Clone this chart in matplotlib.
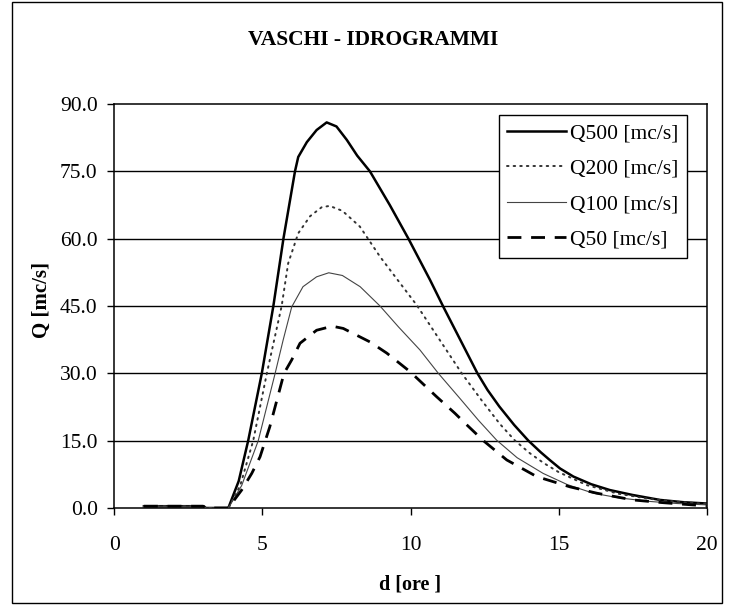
import matplotlib
matplotlib.use("Agg")
import matplotlib.pyplot as plt
from matplotlib.patches import Rectangle

plt.rcParams['font.family'] = ['Liberation Serif', 'DejaVu Serif']

title = "VASCHI - IDROGRAMMI"
xlabel = "d [ore ]"
ylabel = "Q [mc/s]"
series_names = ["Q500 [mc/s]", "Q200 [mc/s]", "Q100 [mc/s]", "Q50 [mc/s]"]

x_q500 = [1.0, 3.0, 3.1, 3.85, 4.2, 4.52, 4.98, 5.37, 5.71, 6.10, 6.21, 6.5, 6.83, 7.17,
          7.5, 7.85, 8.2, 8.63, 9.3, 9.93, 10.66, 11.11, 11.6, 12.26, 12.6, 13.0, 13.5,
          13.98, 14.4, 14.7, 15.05, 15.5, 16.1, 16.73, 17.5, 18.42, 19.2, 20.0]
y_q500 = [0.4, 0.4, 0.0, 0.0, 6.0, 15.0, 30.0, 45.0, 60.0, 75.0, 78.2, 81.5, 84.2, 85.9,
          85.0, 82.0, 78.5, 75.0, 67.5, 60.0, 50.8, 44.8, 38.5, 30.0, 26.3, 22.6, 18.5,
          15.0, 12.4, 10.7, 8.8, 7.0, 5.3, 4.0, 2.9, 1.8, 1.3, 1.0]

x_q200 = [1.0, 3.0, 3.1, 3.85, 4.25, 4.69, 5.15, 5.65, 5.87, 6.21, 6.61, 7.0, 7.27, 7.7,
          8.29, 8.97, 9.6, 10.21, 10.6, 11.0, 11.45, 11.73, 12.4, 13.02, 13.53, 14.03,
          14.5, 15.0, 15.95, 17.0, 18.0, 19.0, 20.0]
y_q200 = [0.4, 0.4, 0.0, 0.0, 5.0, 15.0, 30.0, 45.0, 54.5, 61.2, 65.0, 67.0, 67.3, 66.2,
          62.7, 56.0, 50.5, 45.2, 41.3, 37.3, 32.8, 30.0, 24.0, 18.7, 15.0, 12.2,
          10.0, 8.0, 5.1, 3.2, 2.1, 1.4, 0.9]

x_q100 = [1.0, 3.0, 3.1, 3.85, 4.3, 4.86, 5.43, 5.70, 5.99, 6.37, 6.83, 7.24, 7.7, 8.3,
          8.97, 9.6, 10.32, 10.94, 11.67, 12.3, 12.91, 13.6, 14.48, 15.3, 16.17, 17.0,
          18.0, 19.0, 20.0]
y_q100 = [0.4, 0.4, 0.0, 0.0, 5.0, 15.0, 30.0, 37.4, 44.8, 49.3, 51.5, 52.4, 51.8, 49.3,
          45.0, 40.3, 35.2, 30.0, 24.4, 19.5, 15.1, 11.2, 7.7, 5.2, 3.3, 2.3,
          1.5, 1.0, 0.7]

x_q50 = [1.0, 3.0, 3.1, 3.85, 4.3, 4.64, 4.92, 5.25, 5.73, 5.99, 6.27, 6.83, 7.36, 7.73,
         8.63, 9.2, 9.98, 10.88, 11.5, 11.84, 12.46, 13.25, 14.26, 15.39, 16.29, 17.5,
         18.5, 19.5, 20.0]
y_q50 = [0.4, 0.4, 0.0, 0.0, 4.0, 7.7, 11.4, 18.1, 30.0, 33.0, 36.7, 39.6, 40.5, 40.0,
         37.0, 34.5, 30.4, 24.8, 21.1, 18.9, 15.0, 10.7, 7.0, 4.7, 3.3, 1.8,
         1.2, 0.7, 0.5]

x_ticks = [0, 5, 10, 15, 20]
y_ticks = [0.0, 15.0, 30.0, 45.0, 60.0, 75.0, 90.0]

fig = plt.figure(figsize=(7.31, 6.05), dpi=100)
fig.patches.append(Rectangle((12 / 731, 1 - 603 / 605), (722 - 12) / 731, (603 - 2) / 605,
                             transform=fig.transFigure, fill=False, edgecolor='black',
                             linewidth=1.0))
ax = fig.add_axes([114.3 / 731, 1 - 508 / 605, (706.7 - 114.3) / 731, (508 - 104) / 605])

for yt in y_ticks[1:-1]:
    ax.axhline(yt, color='black', linewidth=1.0, zorder=1)

ax.plot(x_q500, y_q500, color='black', linewidth=1.8, label=series_names[0], zorder=3)
ax.plot(x_q200, y_q200, color='#333333', linewidth=1.4, linestyle=(0, (0.8, 2.6)),
        dash_capstyle='round', label=series_names[1], zorder=3)
ax.plot(x_q100, y_q100, color='#444444', linewidth=0.8, label=series_names[2], zorder=3)
ax.plot(x_q50, y_q50, color='black', linewidth=2.0, linestyle=(0, (5, 3.5)),
        label=series_names[3], zorder=3)

ax.set_xlim(0, 20)
ax.set_ylim(0, 90)
ax.set_xticks(x_ticks)
ax.set_yticks(y_ticks)
ax.set_xticklabels([str(t) for t in x_ticks])
ax.set_yticklabels([f"{t:.1f}" for t in y_ticks])
ax.tick_params(axis='both', direction='out', length=5, width=1.0, labelsize=15.5,
               colors='black')
ax.tick_params(axis='x', pad=15)
ax.tick_params(axis='y', pad=7)
for s in ax.spines.values():
    s.set_linewidth(1.1)
    s.set_color('black')

fig.text(373 / 731, 1 - 40 / 605, title, ha='center', va='center', fontsize=15.5,
         fontweight='bold')
fig.text(410 / 731, 1 - 585 / 605, xlabel, ha='center', va='center', fontsize=14.5,
         fontweight='bold')
fig.text(42 / 731, 1 - 300 / 605, ylabel, ha='center', va='center', fontsize=15,
         fontweight='bold', rotation=90)

leg = ax.legend(loc='upper right', bbox_to_anchor=(687 / 731, 1 - 115 / 605),
                bbox_transform=fig.transFigure, fontsize=15.5, frameon=True,
                fancybox=False, shadow=False, framealpha=1, edgecolor='black',
                handlelength=2.75, handletextpad=0.2, labelspacing=0.72,
                borderpad=0.38, borderaxespad=0)
leg.get_frame().set_linewidth(1.0)

fig.savefig("out.png", dpi=100)
